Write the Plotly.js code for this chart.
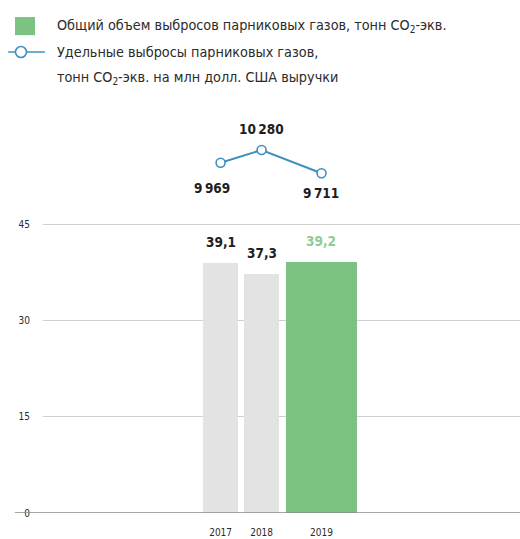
<!DOCTYPE html>
<html>
<head>
<meta charset="utf-8">
<script src="https://cdn.plot.ly/plotly-3.0.1.min.js"></script>
<style>
html,body{margin:0;padding:0;background:#fff;}
#chart{width:520px;height:539px;}
</style>
</head>
<body>
<div id="chart"></div>
<script>
// ---- data ----
const years = ['2017', '2018', '2019'];
const totalEmissions = [39.1, 37.3, 39.2];          // тонн CO2-экв. (bars)
const specificEmissions = [9969, 10280, 9711];      // тонн CO2-экв. на млн долл. США выручки (line)
const yTicks = [0, 15, 30, 45];
const legendBarText = 'Общий объем выбросов парниковых газов, тонн CO<sub>2</sub>-экв.';
const legendLineText1 = 'Удельные выбросы парниковых газов,';
const legendLineText2 = 'тонн CO<sub>2</sub>-экв. на млн долл. США выручки';

// ---- layout helpers (positions / styles) ----
const xPos = [0, 1, 2.46];
const barWidths = [0.85, 0.85, 1.73];
const barColors = ['#e3e3e3', '#e3e3e3', '#7cc283'];
const barLabelColors = ['#1e1e1e', '#1e1e1e', '#8fcb93'];
const lineLabelShift = [[-9, -25], [0, 21], [0, -20]];
const FONT = '"DejaVu Sans Condensed", "Liberation Sans Narrow", "DejaVu Sans", sans-serif';
const LINE_COLOR = '#3f8fbf';

const fmtComma = v => v.toFixed(1).replace('.', ',');
const fmtThousands = v => String(v).replace(/\B(?=(\d{3})+(?!\d))/g, '\u2009');

const bars = {
  type: 'bar',
  x: xPos,
  y: totalEmissions,
  width: barWidths,
  marker: {color: barColors, line: {width: 0}},
  hoverinfo: 'skip',
  showlegend: false
};

const line = {
  type: 'scatter',
  mode: 'lines+markers',
  x: xPos,
  y: specificEmissions,
  yaxis: 'y2',
  line: {color: LINE_COLOR, width: 2},
  marker: {symbol: 'circle', size: 9, color: '#ffffff', line: {color: LINE_COLOR, width: 1.6}},
  cliponaxis: false,
  hoverinfo: 'skip',
  showlegend: false
};

const annotations = [];
totalEmissions.forEach((v, i) => annotations.push({
  x: xPos[i], y: v, xref: 'x', yref: 'y',
  text: '<b>' + fmtComma(v) + '</b>',
  showarrow: false, yanchor: 'bottom', yshift: 11,
  font: {family: FONT, size: 13.5, color: barLabelColors[i]}
}));
specificEmissions.forEach((v, i) => annotations.push({
  x: xPos[i], y: v, xref: 'x', yref: 'y2',
  text: '<b>' + fmtThousands(v) + '</b>',
  showarrow: false, xanchor: 'center', yanchor: 'middle',
  xshift: lineLabelShift[i][0], yshift: lineLabelShift[i][1],
  font: {family: FONT, size: 13.5, color: '#1e1e1e'}
}));

const legendFont = {family: FONT, size: 14.3, color: '#2b2b2b'};
[[legendBarText, 1.239], [legendLineText1, 1.173], [legendLineText2, 1.107]].forEach(([t, yy]) =>
  annotations.push({
    xref: 'paper', yref: 'paper', x: 0.025, y: yy,
    xanchor: 'left', yanchor: 'middle', align: 'left',
    text: t, showarrow: false, font: legendFont
  }));

const shapes = [
  // baseline
  {type: 'line', xref: 'paper', yref: 'y', x0: -0.059, x1: 1, y0: 0, y1: 0,
   line: {color: '#8a8a8a', width: 1.6}},
  // legend: bar square
  {type: 'rect', xref: 'paper', yref: 'paper', x0: -0.0587, x1: -0.0168, y0: 1.216, y1: 1.262,
   fillcolor: '#7cc283', line: {width: 0}},
  // legend: line icon
  {type: 'line', xref: 'paper', yref: 'paper', x0: -0.073, x1: 0.004, y0: 1.173, y1: 1.173,
   line: {color: LINE_COLOR, width: 1.6}},
  {type: 'circle', xref: 'paper', yref: 'paper', x0: -0.0577, x1: -0.0346, y0: 1.159, y1: 1.187,
   fillcolor: '#ffffff', line: {color: LINE_COLOR, width: 1.6}}
];

const layout = {
  width: 520, height: 539,
  margin: {l: 43, r: 0, t: 120, b: 26, pad: 0},
  paper_bgcolor: '#ffffff', plot_bgcolor: '#ffffff',
  font: {family: FONT, color: '#2b2b2b'},
  xaxis: {
    type: 'linear', range: [-4.33, 7.30],
    tickvals: xPos, ticktext: years,
    showgrid: false, zeroline: false, showline: false, ticks: '',
    ticklabelstandoff: 12,
    tickfont: {family: FONT, size: 10, color: '#2b2b2b'},
    fixedrange: true
  },
  yaxis: {
    range: [0, 61.4],
    tickvals: yTicks, ticktext: yTicks.map(String),
    showgrid: true, gridcolor: '#cfcfcf', gridwidth: 1,
    zeroline: false, showline: false, ticks: '',
    ticklabelstandoff: 12,
    tickfont: {family: FONT, size: 10, color: '#2b2b2b'},
    fixedrange: true
  },
  yaxis2: {
    overlaying: 'y', side: 'right', range: [1387, 11015],
    visible: false, showgrid: false, zeroline: false, fixedrange: true
  },
  annotations: annotations,
  shapes: shapes,
  bargap: 0
};

Plotly.newPlot('chart', [bars, line], layout, {staticPlot: true, displayModeBar: false});
</script>
</body>
</html>
